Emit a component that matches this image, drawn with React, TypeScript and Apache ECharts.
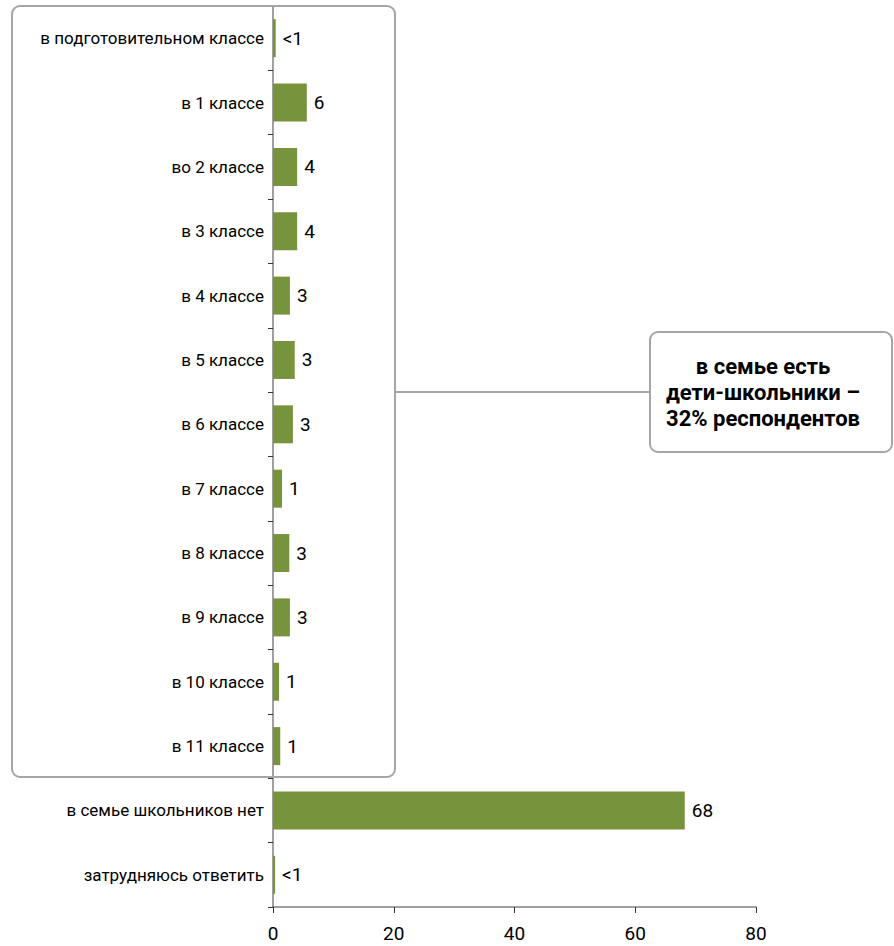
import React, { useEffect, useRef } from "react";
import * as echarts from "echarts";

const categories = [
  "в подготовительном классе",
  "в 1 классе",
  "во 2 классе",
  "в 3 классе",
  "в 4 классе",
  "в 5 классе",
  "в 6 классе",
  "в 7 классе",
  "в 8 классе",
  "в 9 классе",
  "в 10 классе",
  "в 11 классе",
  "в семье школьников нет",
  "затрудняюсь ответить",
];
const values = [0.45, 5.6, 4.0, 4.0, 2.8, 3.6, 3.3, 1.5, 2.7, 2.8, 1.0, 1.2, 68.2, 0.35];
const valueLabels = ["<1", "6", "4", "4", "3", "3", "3", "1", "3", "3", "1", "1", "68", "<1"];
const xTicks = { min: 0, max: 80, interval: 20 };
const calloutLines = ["в семье есть", "дети-школьники –", "32% респондентов"];

const FONT = "Roboto, 'Noto Sans', sans-serif";

export default function App() {
  const ref = useRef<HTMLDivElement>(null);
  useEffect(() => {
    if (!ref.current) return;
    const chart = echarts.init(ref.current, undefined, { renderer: "svg" });
    chart.setOption({
      animation: false,
      textStyle: { fontFamily: FONT },
      grid: { left: 273, right: 138, top: 6, bottom: 39, containLabel: false },
      xAxis: {
        type: "value",
        min: xTicks.min,
        max: xTicks.max,
        interval: xTicks.interval,
        splitLine: { show: false },
        axisLine: { show: true, lineStyle: { color: "#808080", width: 1.5 } },
        axisTick: { show: true, length: 6, lineStyle: { color: "#333", width: 1 } },
        axisLabel: { color: "#000", fontSize: 19, margin: 17, fontFamily: FONT },
      },
      yAxis: {
        type: "category",
        inverse: true,
        data: categories,
        axisLine: { show: true, lineStyle: { color: "#808080", width: 1.5 } },
        axisTick: { show: true, length: 5, lineStyle: { color: "#333", width: 1 } },
        axisLabel: { color: "#000", fontSize: 17, margin: 9, fontFamily: FONT },
      },
      series: [
        {
          type: "bar",
          data: values,
          barCategoryGap: "41%",
          itemStyle: { color: "#77933C" },
          label: {
            show: true,
            position: "right",
            distance: 7,
            color: "#000",
            fontSize: 19,
            fontFamily: FONT,
            formatter: (p: any) => valueLabels[p.dataIndex],
          },
        },
      ],
      graphic: [
        {
          type: "rect",
          shape: { x: 12, y: 6, width: 383, height: 771, r: 8 },
          style: { fill: "none", stroke: "#a6a6a6", lineWidth: 2 },
          z: 100,
        },
        {
          type: "line",
          shape: { x1: 395, y1: 392, x2: 650, y2: 392 },
          style: { stroke: "#a6a6a6", lineWidth: 2 },
          z: 100,
        },
        {
          type: "rect",
          shape: { x: 650, y: 332, width: 242, height: 120, r: 8 },
          style: { fill: "#fff", stroke: "#a6a6a6", lineWidth: 2 },
          z: 100,
        },
        {
          type: "text",
          x: 763,
          y: 392,
          z: 101,
          style: {
            text: calloutLines.join("\n"),
            fill: "#000",
            font: `bold 22px ${FONT}`,
            align: "center",
            verticalAlign: "middle",
            lineHeight: 26,
          },
        },
      ],
    });
    return () => chart.dispose();
  }, []);
  return (
    <div
      ref={ref}
      style={{ position: "absolute", left: 0, top: 0, width: 894, height: 946, background: "#fff" }}
    />
  );
}
